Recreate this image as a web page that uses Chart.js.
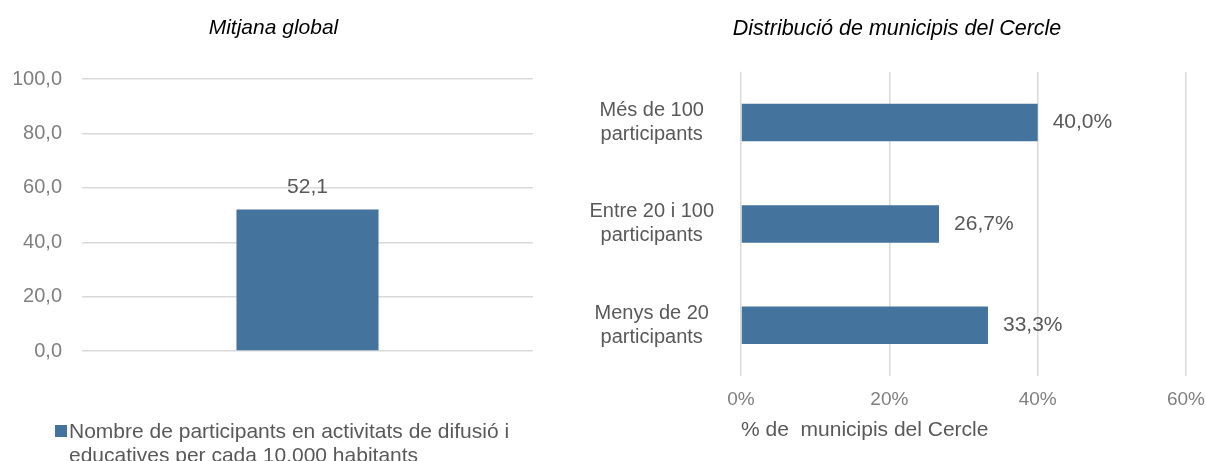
<!DOCTYPE html>
<html>
<head>
<meta charset="utf-8">
<script src="https://cdn.jsdelivr.net/npm/chart.js@4.4.0/dist/chart.umd.min.js"></script>
<style>
  body { margin: 0; width: 1206px; height: 461px; overflow: hidden; background: #fff; font-family: "Liberation Sans", Arial, sans-serif; }
  #leftBox { position: absolute; left: 0; top: 0; width: 548px; height: 461px; }
  #rightBox { position: absolute; left: 588px; top: 0; width: 618px; height: 461px; }
  #legend { position: absolute; left: 55px; top: 419px; display: flex; align-items: flex-start; font-size: 21px; line-height: 24px; color: #595959; }
  #legend .sw { flex: none; width: 12px; height: 12px; background: #44739e; margin: 6px 2px 0 0; }
  #legend .txt { width: 445px; }
</style>
</head>
<body>
<div id="leftBox"><canvas id="globalChart"></canvas></div>
<div id="rightBox"><canvas id="distChart"></canvas></div>
<div id="legend"><span class="sw"></span><span class="txt">Nombre de participants en activitats de difusió i educatives per cada 10.000 habitants</span></div>

<script>
// data
const barColor = '#44739e';
const globalLabels = [''];
const globalValues = [52.1];
const globalTicks = ['0,0', '20,0', '40,0', '60,0', '80,0', '100,0'];

const distCategories = [
    ['Més de 100', 'participants'],
    ['Entre 20 i 100', 'participants'],
    ['Menys de 20', 'participants']
];
const distValues = [40.0, 26.7, 33.3];
const distTicks = ['0%', '20%', '40%', '60%'];

const FONT = '"Liberation Sans", Arial, sans-serif';
const fmt = (v, dec) => v.toFixed(dec).replace('.', ',');

// draws the value next to / above each bar
const valueLabels = {
    id: 'valueLabels',
    afterDatasetsDraw(chart, args, opts) {
        const ctx = chart.ctx;
        const vals = chart.data.datasets[0].data;
        ctx.save();
        ctx.font = opts.size + 'px ' + FONT;
        ctx.fillStyle = '#595959';
        ctx.textBaseline = 'middle';
        chart.getDatasetMeta(0).data.forEach((bar, i) => {
            const txt = opts.format(vals[i]);
            if (chart.options.indexAxis === 'y') {
                ctx.textAlign = 'left';
                ctx.fillText(txt, bar.x + opts.offset, bar.y);
            } else {
                ctx.textAlign = 'center';
                ctx.fillText(txt, bar.x, bar.y - opts.offset);
            }
        });
        ctx.restore();
    }
};

// Chart 1: global average (vertical bar)
new Chart(document.getElementById('globalChart'), {
    type: 'bar',
    data: {
        labels: globalLabels,
        datasets: [{
            data: globalValues,
            backgroundColor: barColor,
            barPercentage: 0.315,
            categoryPercentage: 1
        }]
    },
    options: {
        responsive: true,
        maintainAspectRatio: false,
        animation: false,
        // left padding also shifts the centred title
        layout: { padding: { left: 14, right: 15, top: 0, bottom: 110 } },
        plugins: {
            legend: { display: false },
            tooltip: { enabled: false },
            title: {
                display: true,
                text: 'Mitjana global',
                color: '#000',
                font: { family: FONT, size: 21, style: 'italic', weight: 'normal' },
                padding: { top: 16, bottom: 38 }
            },
            valueLabels: { size: 21, offset: 22, format: v => fmt(v, 1) }
        },
        scales: {
            x: { display: false },
            y: {
                min: 0, max: 100,
                ticks: {
                    stepSize: 20,
                    padding: 20,
                    color: '#7f7f7f',
                    font: { family: FONT, size: 20 },
                    callback: (v, i) => globalTicks[i]
                },
                grid: { color: '#d9d9d9', lineWidth: 1.5, drawTicks: false },
                border: { display: false },
                afterFit: s => { s.width = 68; }
            }
        }
    },
    plugins: [valueLabels]
});

// Chart 2: distribution of municipalities (horizontal bar)
new Chart(document.getElementById('distChart'), {
    type: 'bar',
    data: {
        labels: distCategories,
        datasets: [{
            data: distValues,
            backgroundColor: barColor,
            barPercentage: 0.37,
            categoryPercentage: 1
        }]
    },
    options: {
        indexAxis: 'y',
        responsive: true,
        maintainAspectRatio: false,
        animation: false,
        layout: { padding: 0 },
        plugins: {
            legend: { display: false },
            tooltip: { enabled: false },
            title: {
                display: true,
                text: 'Distribució de municipis del Cercle',
                color: '#000',
                font: { family: FONT, size: 21.5, style: 'italic', weight: 'normal' },
                padding: { top: 16, bottom: 30 }
            },
            valueLabels: { size: 21, offset: 15, format: v => fmt(v, 1) + '%' }
        },
        scales: {
            x: {
                min: 0, max: 60,
                ticks: {
                    stepSize: 20,
                    padding: 12,
                    color: '#7f7f7f',
                    font: { family: FONT, size: 19 },
                    callback: (v, i) => distTicks[i]
                },
                grid: { color: '#d9d9d9', lineWidth: 1.5, drawTicks: false },
                border: { display: false },
                title: {
                    display: true,
                    align: 'start',
                    text: '% de  municipis del Cercle',
                    color: '#595959',
                    font: { family: FONT, size: 21 },
                    padding: { top: 0, bottom: 18 }
                },
                afterFit: s => { s.height = 85; s.paddingLeft = 0; s.paddingRight = 20; }
            },
            y: {
                ticks: {
                    padding: 27,
                    crossAlign: 'center',
                    color: '#595959',
                    font: { family: FONT, size: 20, lineHeight: 1.2 }
                },
                grid: { display: false, drawTicks: false },
                border: { display: false },
                afterFit: s => { s.width = 153; }
            }
        }
    },
    plugins: [valueLabels]
});
</script>
</body>
</html>
